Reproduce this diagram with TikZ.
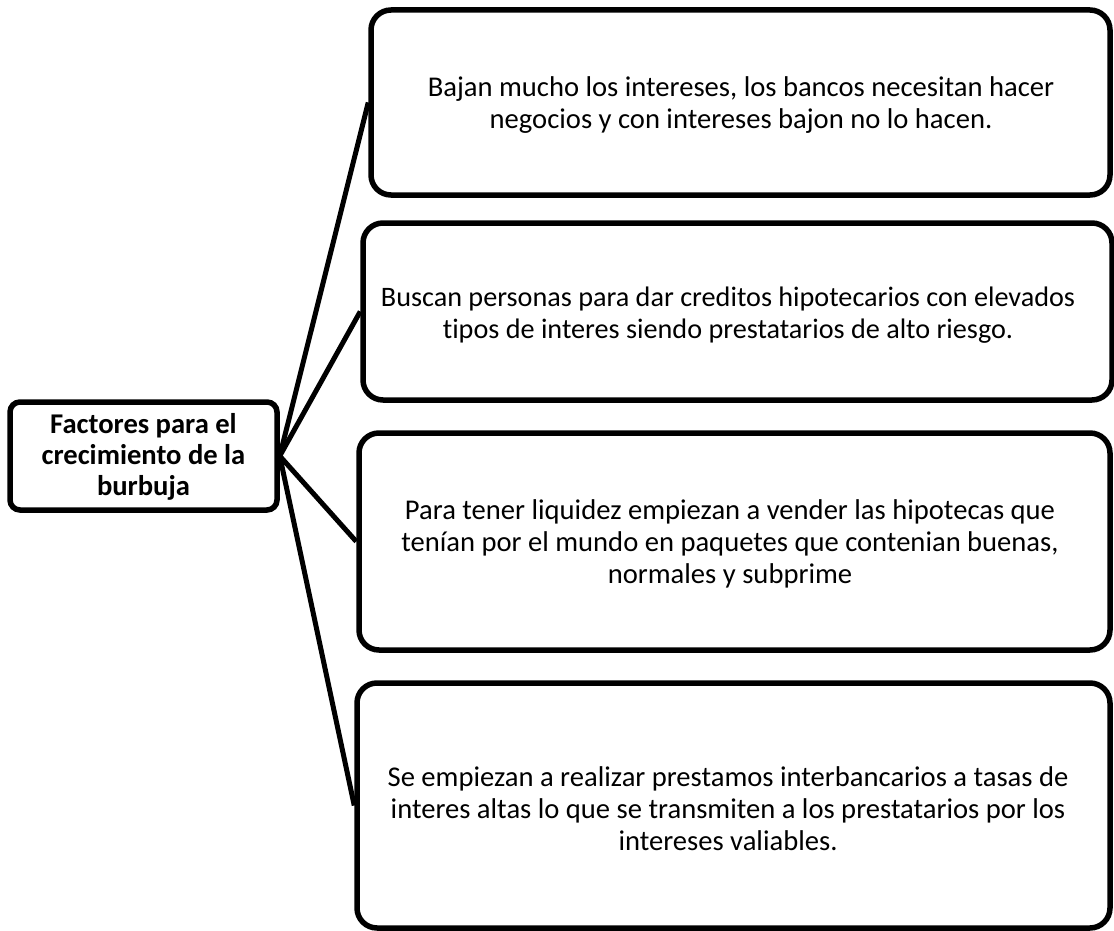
\documentclass[tikz,border=0pt]{standalone}
\usepackage{fontspec}
\setmainfont{Carlito}[Ligatures={NoCommon}]
\newcommand{\lines}[1]{\begin{tabular}{@{}c@{}}#1\end{tabular}}
\begin{document}
\begin{tikzpicture}[x=1pt,y=-1pt,
  bigbox/.style={draw=black, line width=5.5pt, rounded corners=20pt, fill=white, inner sep=0pt},
  leftbox/.style={draw=black, line width=5.5pt, rounded corners=10pt, fill=white, inner sep=0pt},
  txt/.style={font=\fontsize{28.6}{32}\selectfont, inner sep=0pt},
  conn/.style={draw=black, line width=5pt}]
\useasboundingbox (0,0) rectangle (1114,931);
\fill[white] (0,0) rectangle (1114,931);
% left node
\node[leftbox, minimum width=267pt, minimum height=108pt] (L) at (143.5,456) {};
\node[txt, font=\bfseries\fontsize{28.6}{31}\selectfont] (Lt) at (143.5,458) {\lines{Factores para el\\crecimiento de la\\burbuja}};
% right boxes
\node[bigbox, minimum width=739pt, minimum height=185pt] (B1) at (740.5,102.5) {};
\node[bigbox, minimum width=749pt, minimum height=177pt] (B2) at (737.5,311.5) {};
\node[bigbox, minimum width=751pt, minimum height=217pt] (B3) at (734.5,541.5) {};
\node[bigbox, minimum width=753pt, minimum height=245pt] (B4) at (733.5,805.5) {};
\node[txt] (T1) at (741,106) {\lines{Bajan mucho los intereses, los bancos necesitan hacer\\negocios y con intereses bajon no lo hacen.}};
\node[txt, font=\fontsize{28.2}{32}\selectfont] (T2) at (728,316) {\lines{Buscan personas para dar creditos hipotecarios con elevados\\tipos de interes siendo prestatarios de alto riesgo.}};
\node[txt] (T3) at (730,545) {\lines{Para tener liquidez empiezan a vender las hipotecas que\\tenían por el mundo en paquetes que contenian buenas,\\normales y subprime}};
\node[txt] (T4) at (728,812) {\lines{Se empiezan a realizar prestamos interbancarios a tasas de\\interes altas lo que se transmiten a los prestatarios por los\\intereses valiables.}};
% connectors
\draw[conn] (L.east) -- (B1.west);
\draw[conn] (L.east) -- (B2.west);
\draw[conn] (L.east) -- (B3.west);
\draw[conn] (L.east) -- (B4.west);
\end{tikzpicture}
\end{document}
